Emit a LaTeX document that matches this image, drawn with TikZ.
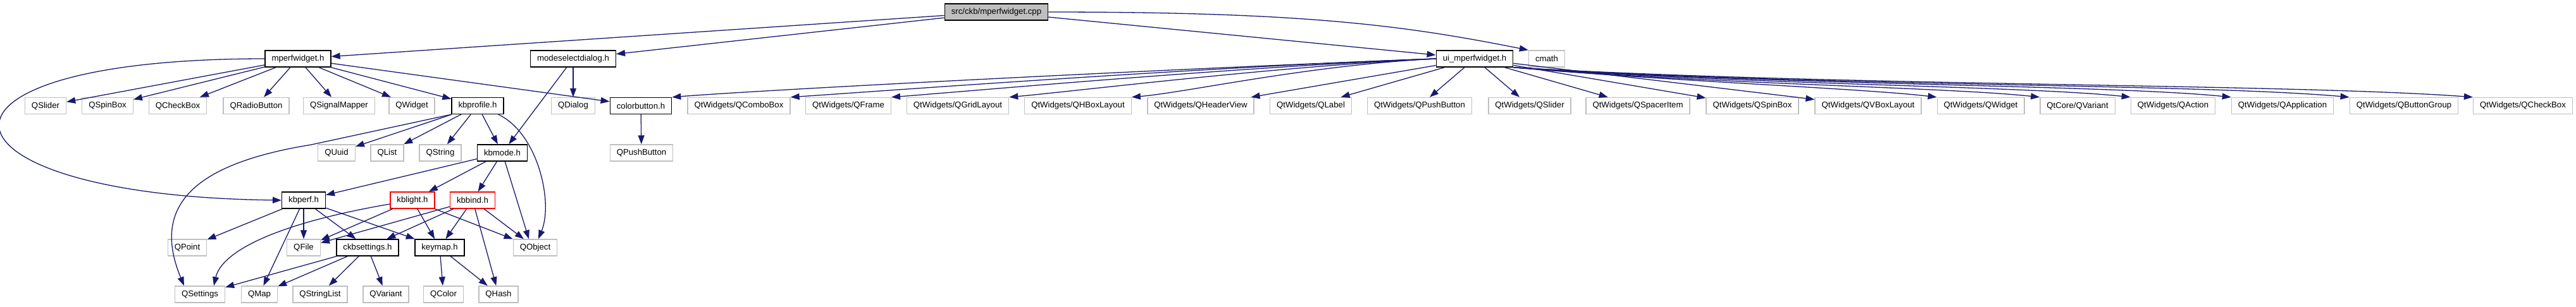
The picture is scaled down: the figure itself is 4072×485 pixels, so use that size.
\documentclass[tikz,border=0pt]{standalone}
\usepackage{fontspec}
\setmainfont{Liberation Sans}
\usetikzlibrary{arrows.meta}
\definecolor{edgeblue}{HTML}{191970}
\definecolor{extgray}{HTML}{BFBFBF}
\definecolor{rootfill}{HTML}{BFBFBF}
\newcommand\labelfont{\fontsize{13.2}{15}\selectfont}
\tikzset{
  basebox/.style={draw, rectangle, minimum height=26pt, inner xsep=10.5pt, inner ysep=0pt, line width=1.4pt, font=\labelfont, text=black},
  docbox/.style={basebox, draw=black},
  extbox/.style={basebox, draw=extgray},
  redbox/.style={basebox, draw=red},
  rootbox/.style={basebox, draw=black, fill=rootfill},
  dep/.style={draw=edgeblue, line width=1.3pt, -{Triangle[length=14pt,width=10pt]}}
}
\begin{document}
\begin{tikzpicture}[x=1pt,y=-1pt]
\useasboundingbox (0,0) rectangle (4072,485);
% nodes
\node[rootbox] (cpp) at (1575,19) {src/ckb/mperfwidget.cpp};
\node[docbox] (mw) at (471,93) {mperfwidget.h};
\node[docbox] (msd) at (906,93) {modeselectdialog.h};
\node[docbox] (ui) at (2331,93) {ui\_mperfwidget.h};
\node[extbox] (cmath) at (2445,93) {cmath};
% row 2
\node[extbox] (qslider) at (72,167.5) {QSlider};
\node[extbox] (qspinbox) at (170,167.5) {QSpinBox};
\node[extbox] (qcheckbox) at (281,167.5) {QCheckBox};
\node[extbox] (qradio) at (405,167.5) {QRadioButton};
\node[extbox] (qsigmap) at (536,167.5) {QSignalMapper};
\node[extbox] (qwidget) at (651,167.5) {QWidget};
\node[docbox] (kbprofile) at (755,167.5) {kbprofile.h};
\node[extbox] (qdialog) at (906,167.5) {QDialog};
\node[docbox] (colorbutton) at (1013,167.5) {colorbutton.h};
\node[extbox] (wcombo) at (1168,167.5) {QtWidgets/QComboBox};
\node[extbox] (wframe) at (1341,167.5) {QtWidgets/QFrame};
\node[extbox] (wgrid) at (1514,167.5) {QtWidgets/QGridLayout};
\node[extbox] (whbox) at (1704,167.5) {QtWidgets/QHBoxLayout};
\node[extbox] (wheader) at (1898,167.5) {QtWidgets/QHeaderView};
\node[extbox] (wlabel) at (2072,167.5) {QtWidgets/QLabel};
\node[extbox] (wpush) at (2244,167.5) {QtWidgets/QPushButton};
\node[extbox] (wslider) at (2418,167.5) {QtWidgets/QSlider};
\node[extbox] (wspacer) at (2589,167.5) {QtWidgets/QSpacerItem};
\node[extbox] (wspin) at (2770,167.5) {QtWidgets/QSpinBox};
\node[extbox] (wvbox) at (2953,167.5) {QtWidgets/QVBoxLayout};
\node[extbox] (wwidget) at (3131,167.5) {QtWidgets/QWidget};
\node[extbox] (cvariant) at (3284,167.5) {QtCore/QVariant};
\node[extbox] (waction) at (3435,167.5) {QtWidgets/QAction};
\node[extbox] (wapp) at (3608,167.5) {QtWidgets/QApplication};
\node[extbox] (wbgroup) at (3800,167.5) {QtWidgets/QButtonGroup};
\node[extbox] (wcheck) at (3988,167.5) {QtWidgets/QCheckBox};
% row 3
\node[extbox] (quuid) at (532,242) {QUuid};
\node[extbox] (qlist) at (612,242) {QList};
\node[extbox] (qstring) at (696,242) {QString};
\node[docbox] (kbmode) at (794,242) {kbmode.h};
\node[extbox] (qpush) at (1014,242) {QPushButton};
% row 4
\node[docbox] (kbperf) at (480,317) {kbperf.h};
\node[redbox] (kblight) at (652,317) {kblight.h};
\node[redbox] (kbbind) at (747,317) {kbbind.h};
% row 5
\node[extbox] (qpoint) at (296,392) {QPoint};
\node[extbox] (qfile) at (480,392) {QFile};
\node[docbox] (ckbsettings) at (581,392) {ckbsettings.h};
\node[docbox] (keymap) at (695,392) {keymap.h};
\node[extbox] (qobject) at (846,392) {QObject};
% row 6
\node[extbox] (qsettings) at (316,466) {QSettings};
\node[extbox] (qmap) at (410,466) {QMap};
\node[extbox] (qstringlist) at (506,466) {QStringList};
\node[extbox] (qvariant) at (610,466) {QVariant};
\node[extbox] (qcolor) at (701,466) {QColor};
\node[extbox] (qhash) at (788,466) {QHash};
% edges from cpp
\draw[dep] (cpp) -- (mw);
\draw[dep] (cpp) -- (msd);
\draw[dep] (cpp) -- (ui);
\draw[dep] (cpp.east) .. controls +(400,0) and +(-200,-40) .. (cmath.north west);
% mperfwidget.h
\draw[dep] (mw) -- (qslider);
\draw[dep] (mw) -- (qspinbox);
\draw[dep] (mw) -- (qcheckbox);
\draw[dep] (mw) -- (qradio);
\draw[dep] (mw) -- (qsigmap);
\draw[dep] (mw) -- (qwidget);
\draw[dep] (mw) -- (kbprofile);
\draw[dep] (mw) -- (colorbutton);
\draw[dep] (mw.west) .. controls +(-584,0) and +(-566,-7) .. (kbperf.west);
% modeselectdialog.h
\draw[dep] (msd) -- (qdialog);
\draw[dep] (msd) -- (kbmode);
% colorbutton.h
\draw[dep] (colorbutton) -- (qpush);
% kbprofile.h
\draw[dep] (kbprofile) -- (quuid);
\draw[dep] (kbprofile) -- (qlist);
\draw[dep] (kbprofile) -- (qstring);
\draw[dep] (kbprofile) -- (kbmode);
\draw[dep] ([xshift=-9pt]kbprofile.south east) .. controls +(62,29) and +(24,-59) .. ([xshift=5pt]qobject.north);
\draw[dep] (kbprofile.south west) -- ++(-222,48) .. controls +(-191,31) and +(-51,-123) .. ([xshift=-25pt]qsettings.north);
% kbmode.h
\draw[dep] (kbmode) -- (kbperf);
\draw[dep] (kbmode) -- (kblight);
\draw[dep] (kbmode) -- (kbbind);
\draw[dep] (kbmode) -- ([xshift=-10pt]qobject.north);
% kbperf.h
\draw[dep] (kbperf) -- (qpoint);
\draw[dep] (kbperf) -- (qmap);
\draw[dep] (kbperf) -- (qfile);
\draw[dep] (kbperf) -- (ckbsettings);
\draw[dep] (kbperf) -- (keymap);
% kblight.h
\draw[dep] ([yshift=-6pt]kblight.west) .. controls (430,355) and (350,400) .. ([xshift=22pt]qsettings.north);
\draw[dep] (kblight) -- (qfile);
\draw[dep] (kblight) -- (keymap);
\draw[dep] (kblight) -- (qobject);
% kbbind.h
\draw[dep] (kbbind) -- (qfile);
\draw[dep] (kbbind) -- (ckbsettings);
\draw[dep] (kbbind) -- (keymap);
\draw[dep] (kbbind) -- (qhash);
\draw[dep] (kbbind) -- (qobject);
% ckbsettings.h
\draw[dep] (ckbsettings) -- (qsettings);
\draw[dep] (ckbsettings) -- (qmap);
\draw[dep] (ckbsettings) -- (qstringlist);
\draw[dep] (ckbsettings) -- (qvariant);
% keymap.h
\draw[dep] (keymap) -- (qcolor);
\draw[dep] (keymap) -- (qhash);
% ui_mperfwidget.h
\draw[dep] (ui.west) .. controls +(-400,15) and +(150,-12) .. (colorbutton.north east);
\draw[dep] (ui.west) .. controls +(-350,12) and +(150,-10) .. (wcombo.north east);
\draw[dep] (ui.west) .. controls +(-300,12) and +(130,-10) .. (wframe.north east);
\draw[dep] (ui.west) .. controls +(-250,12) and +(110,-10) .. (wgrid.north east);
\draw[dep] (ui.west) .. controls +(-200,10) and +(90,-8) .. (whbox.north east);
\draw[dep] (ui) -- (wheader);
\draw[dep] (ui) -- (wlabel);
\draw[dep] (ui) -- (wpush);
\draw[dep] (ui) -- (wslider);
\draw[dep] (ui) -- (wspacer);
\draw[dep] (ui) -- (wspin);
\draw[dep] (ui) -- (wvbox);
\draw[dep] (ui.south east) .. controls +(250,22) and +(-120,-14) .. (wwidget.north west);
\draw[dep] (ui.south east) .. controls +(300,26) and +(-150,-16) .. (cvariant.north west);
\draw[dep] (ui.south east) .. controls +(350,27) and +(-170,-18) .. (waction.north west);
\draw[dep] (ui.south east) .. controls +(400,28) and +(-200,-20) .. (wapp.north west);
\draw[dep] (ui.south east) .. controls +(450,30) and +(-250,-22) .. (wbgroup.north west);
\draw[dep] (ui.south east) .. controls +(500,30) and +(-300,-22) .. (wcheck.north west);
\end{tikzpicture}
\end{document}
